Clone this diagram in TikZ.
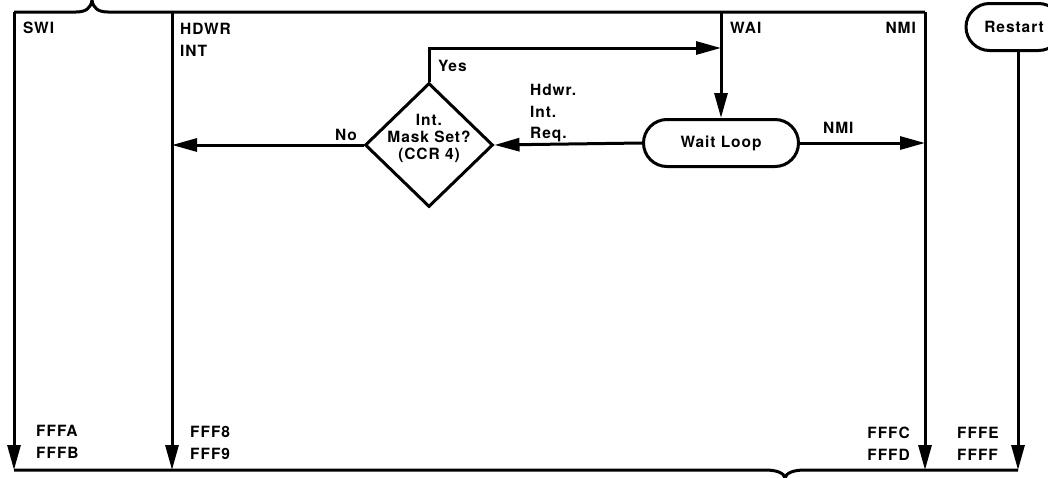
\documentclass[tikz,border=0pt]{standalone}
\usepackage{fontspec}
\setmainfont[LetterSpace=6]{TeX Gyre Heros}
\usetikzlibrary{arrows.meta,shapes.misc,shapes.geometric}
\begin{document}
\begin{tikzpicture}[x=1pt,y=-1pt,
  ln/.style={line width=3pt},
  arr/.style={line width=3pt,-{Triangle[length=25pt,width=13pt]}},
  txt/.style={inner sep=0pt,font=\fontsize{15.5}{21.5}\selectfont\bfseries,align=left},
  dtxt/.style={inner sep=0pt,font=\fontsize{15.5}{17}\selectfont\bfseries,align=center},
  term/.style={draw,line width=3pt,rounded rectangle,minimum height=47pt,inner sep=0pt,font=\fontsize{15.5}{18}\selectfont\bfseries},
  dec/.style={draw,line width=3pt,diamond,minimum width=128pt,minimum height=124pt,inner sep=0pt}]
\useasboundingbox (0,0) rectangle (1048,477);
% corners
\coordinate (tl) at (14,12);
\coordinate (bl) at (14,470);
\coordinate (th) at (172,12);
\coordinate (bh) at (172,470);
\coordinate (tw) at (721,12);
\coordinate (tn) at (925,12);
\coordinate (bn) at (925,470);
\coordinate (br) at (1018,470);
\coordinate (yc) at (429,48);
\coordinate (yw) at (721,48);
\coordinate (nh) at (172,145);
\coordinate (nn) at (925,143);
% nodes
\node[term,minimum width=155pt] (wait) at (721,143) {Wait Loop};
\node[term,minimum width=96pt] (restart) at (1014,27) {Restart};
\coordinate (rs) at (1018,50.5);
\node[dec] (mask) at (429,145) {};
\node[dtxt,anchor=north] (masktxt) at (429,114) {Int.\\Mask Set?\\(CCR 4)};
% top line with brace
\draw[ln] (tl) -- (76,12) .. controls (86,12) and (91,8) .. (92,0) .. controls (93,8) and (98,12) .. (108,12) -- (tn);
% bottom line with brace
\draw[ln] (bl) -- (765,470) .. controls (777,470) and (784,473) .. (785,478) .. controls (786,473) and (793,470) .. (805,470) -- (br);
% verticals
\draw[arr] (tl) -- (bl);
\draw[arr] (th) -- (bh);
\draw[arr] (tn) -- (bn);
\draw[arr] (rs) -- (br);
\draw[arr] (tw) -- (wait.north);
% flows
\draw[arr] (wait.west) -- (mask.east);
\draw[arr] (mask.west) -- (nh);
\draw[arr] (wait.east) -- (nn);
\draw[arr] (mask.north) -- (yc) -- (yw);
% labels
\node[txt,anchor=north west] (lswi) at (23,22) {SWI};
\node[txt,anchor=north west] (lhdwr) at (180,23) {HDWR\\INT};
\node[txt,anchor=north west] (lwai) at (730,22) {WAI};
\node[txt,anchor=north east] (lnmi) at (916,22) {NMI};
\node[txt,anchor=north west] (lyes) at (438,60) {Yes};
\node[txt,anchor=north west] (lreq) at (530,84) {Hdwr.\\Int.\\Req.};
\node[txt,anchor=north east] (lno) at (357,129) {No};
\node[txt,anchor=north west] (lnmi2) at (823,122) {NMI};
\node[txt,anchor=north west] (la) at (36,425) {FFFA\\FFFB};
\node[txt,anchor=north west] (l8) at (190,426) {FFF8\\FFF9};
\node[txt,anchor=north east] (lc) at (910,427) {FFFC\\FFFD};
\node[txt,anchor=north west] (le) at (957,427) {FFFE\\FFFF};
\end{tikzpicture}
\end{document}
